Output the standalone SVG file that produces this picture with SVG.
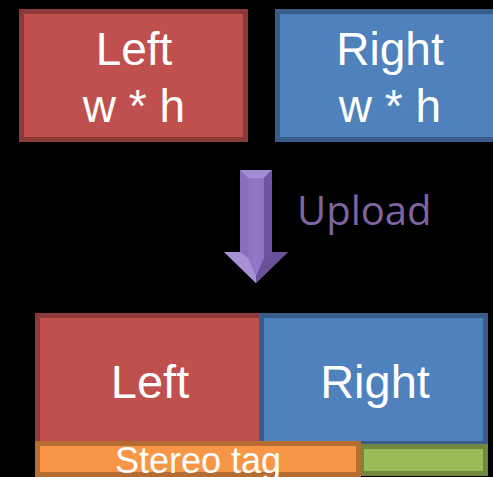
<svg xmlns="http://www.w3.org/2000/svg" width="493" height="477" viewBox="0 0 493 477">
<style>
.lbl{font-family:"Liberation Sans",Arial,sans-serif;fill:#fff;text-anchor:middle}
.red{fill:#C0504D;stroke:#8C3A38;stroke-width:5}
.blue{fill:#4F81BD;stroke:#385D8A;stroke-width:5}
.orange{fill:#F79646;stroke:#B66D31;stroke-width:5}
.green{fill:#9BBB59;stroke:#71893F;stroke-width:5}
</style>
<defs>
<linearGradient id="ag" x1="0" y1="0" x2="1" y2="0">
<stop offset="0" stop-color="#7A5FAE"/>
<stop offset="0.5" stop-color="#9478C8"/>
<stop offset="1" stop-color="#7A5FAE"/>
</linearGradient>
</defs>
<rect width="493" height="477" fill="#000"/>
<g id="top-left">
<rect class="red" x="21.5" y="11.5" width="224" height="128"/>
<text class="lbl" x="134" y="65" font-size="46">Left</text>
<text class="lbl" x="134" y="122" font-size="46">w * h</text>
</g>
<g id="top-right">
<rect class="blue" x="277.5" y="11.5" width="222" height="128"/>
<text class="lbl" x="390" y="65" font-size="46">Right</text>
<text class="lbl" x="390" y="122" font-size="46">w * h</text>
</g>
<g id="connectors">
<g id="upload-arrow">
<polygon points="240,170 272,170 272,252 288,252 256,283 224,252 240,252" fill="url(#ag)"/>
<polygon points="240,170 272,170 264,178 248,178" fill="#A48CD2"/>
<polygon points="240,170 248,178 248,258 240,252" fill="#8A6EBE"/>
<polygon points="272,170 264,178 264,258 272,252" fill="#6E549E"/>
<polygon points="224,252 240,252 248,258 256,276 256,283" fill="#A890D6"/>
<polygon points="288,252 272,252 264,258 256,276 256,283" fill="#6A5098"/>
<text x="297" y="225" font-family="'Open Sans','Noto Sans',sans-serif" font-size="40" fill="#8064A2">Upload</text>
</g>
</g>
<g id="bottom-left">
<rect class="red" x="37.5" y="315.5" width="224" height="130"/>
<text class="lbl" x="150" y="398" font-size="47">Left</text>
</g>
<g id="bottom-right">
<rect class="blue" x="261.5" y="315.5" width="224" height="128"/>
<text class="lbl" x="375" y="398" font-size="47">Right</text>
</g>
<g id="padding">
<rect class="green" x="361.5" y="446.5" width="124" height="27"/>
</g>
<g id="stereo-tag">
<rect class="orange" x="37.5" y="443.5" width="321" height="31"/>
<text class="lbl" x="198" y="473" font-size="36">Stereo tag</text>
</g>
</svg>
